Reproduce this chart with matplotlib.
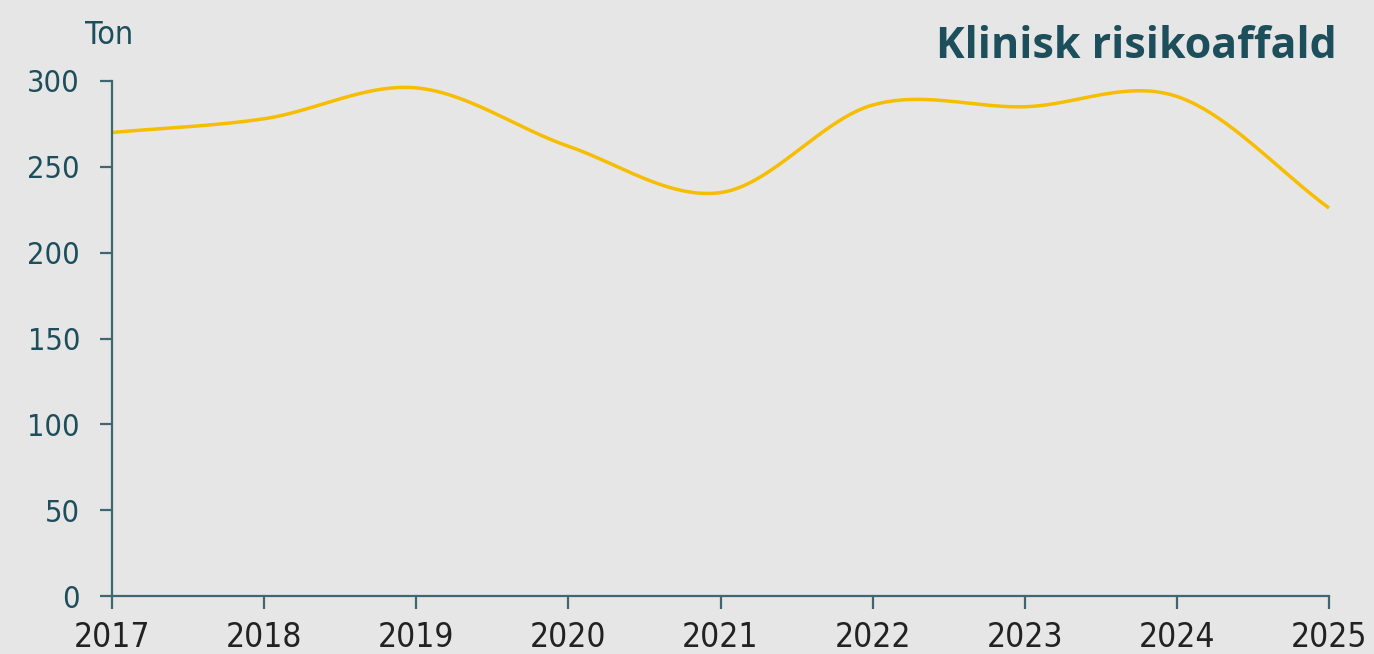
import numpy as np
import matplotlib
matplotlib.use("Agg")
import matplotlib.pyplot as plt

years = [2017, 2018, 2019, 2020, 2021, 2022, 2023, 2024, 2025]
values = [270, 278, 296, 262, 235, 286, 285, 291, 226]
yticks = [0, 50, 100, 150, 200, 250, 300]
title = "Klinisk risikoaffald"
unit = "Ton"

def catmull_rom(x, y, n=40):
    x = np.asarray(x, float); y = np.asarray(y, float)
    m = np.zeros_like(y)
    m[1:-1] = (y[2:] - y[:-2]) / (x[2:] - x[:-2])
    m[0] = (y[1] - y[0]) / (x[1] - x[0])
    m[-1] = (y[-1] - y[-2]) / (x[-1] - x[-2])
    xs, ys = [], []
    for i in range(len(x) - 1):
        h = x[i+1] - x[i]
        t = np.linspace(0, 1, n, endpoint=(i == len(x) - 2))
        h00 = 2*t**3 - 3*t**2 + 1
        h10 = t**3 - 2*t**2 + t
        h01 = -2*t**3 + 3*t**2
        h11 = t**3 - t**2
        xs.append(x[i] + t*h)
        ys.append(h00*y[i] + h10*h*m[i] + h01*y[i+1] + h11*h*m[i+1])
    return np.concatenate(xs), np.concatenate(ys)

bg = "#e6e6e6"
teal = "#1d4e5b"
spine = "#3f6671"

fig = plt.figure(figsize=(13.74, 6.54), dpi=100, facecolor=bg)
ax = fig.add_axes([112/1374, 1-596/654, (1329-112)/1374, (596-81)/654])
ax.set_facecolor(bg)

sx, sy = catmull_rom(years, values)
ax.plot(sx, sy, color="#f7bd00", lw=2.5, solid_capstyle="butt", clip_on=False)

ax.set_xlim(2017, 2025)
ax.set_ylim(0, 300)
ax.set_xticks(years)
ax.set_yticks(yticks)
for s in ["top", "right"]:
    ax.spines[s].set_visible(False)
for s in ["left", "bottom"]:
    ax.spines[s].set_color(spine)
    ax.spines[s].set_linewidth(1.6)
ax.tick_params(axis="both", length=9, width=1.6, color=spine)
ax.tick_params(axis="y", pad=14, labelsize=22, labelcolor=teal)
ax.tick_params(axis="x", pad=9, labelsize=24, labelcolor="#222222")
for lab in ax.get_xticklabels() + ax.get_yticklabels():
    lab.set_fontstretch("condensed")

fig.text(85/1374, 1-36/654, unit, ha="left", va="center", fontsize=23,
         color=teal, fontstretch="condensed")
fig.text(1337/1374, 1-46/654, title, ha="right", va="center", fontsize=31,
         fontweight="bold", color=teal, family="Open Sans")

fig.savefig("out.png", dpi=100, facecolor=bg)
